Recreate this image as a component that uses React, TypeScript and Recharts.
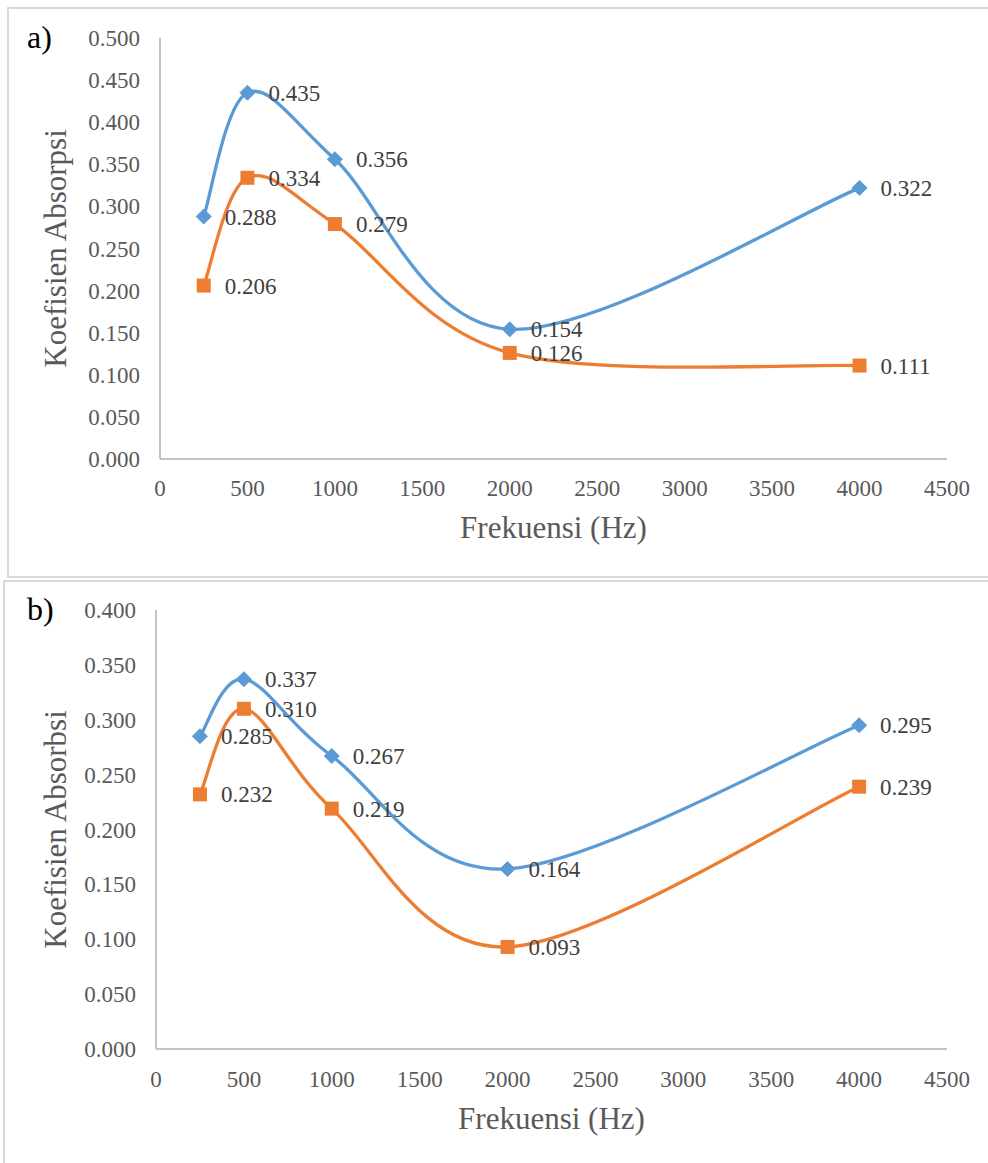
import { LineChart, Line, XAxis, YAxis, LabelList } from 'recharts';

const FREQUENCIES = [250, 500, 1000, 2000, 4000];
const A_BLUE = [0.288, 0.435, 0.356, 0.154, 0.322];
const A_ORANGE = [0.206, 0.334, 0.279, 0.126, 0.111];
const B_BLUE = [0.285, 0.337, 0.267, 0.164, 0.295];
const B_ORANGE = [0.232, 0.31, 0.219, 0.093, 0.239];
const X_TICKS = [0, 500, 1000, 1500, 2000, 2500, 3000, 3500, 4000, 4500];
const A_Y_TICKS = [0, 0.05, 0.1, 0.15, 0.2, 0.25, 0.3, 0.35, 0.4, 0.45, 0.5];
const B_Y_TICKS = [0, 0.05, 0.1, 0.15, 0.2, 0.25, 0.3, 0.35, 0.4];

const BLUE = '#5B9BD5';
const ORANGE = '#ED7D31';
const FONT = 'Liberation Serif, Times New Roman, serif';

// Excel-style smoothed line: bezier with control points at 1/6 of neighbour span
function excelSmooth(context: any) {
    let pts: number[][] = [];
    return {
        areaStart() {},
        areaEnd() {},
        lineStart() {
            pts = [];
        },
        point(x: number, y: number) {
            pts.push([+x, +y]);
        },
        lineEnd() {
            const n = pts.length;
            if (!n) return;
            context.moveTo(pts[0][0], pts[0][1]);
            for (let i = 0; i < n - 1; i++) {
                const p0 = pts[Math.max(i - 1, 0)];
                const p1 = pts[i];
                const p2 = pts[i + 1];
                const p3 = pts[Math.min(i + 2, n - 1)];
                context.bezierCurveTo(
                    p1[0] + (p2[0] - p0[0]) / 6,
                    p1[1] + (p2[1] - p0[1]) / 6,
                    p2[0] - (p3[0] - p1[0]) / 6,
                    p2[1] - (p3[1] - p1[1]) / 6,
                    p2[0],
                    p2[1],
                );
            }
        },
    };
}

const diamondDot = (p: any) => {
    const { cx, cy, index } = p;
    const r = 7.5;
    return (
        <polygon
            key={`d-${index}`}
            points={`${cx},${cy - r} ${cx + r},${cy} ${cx},${cy + r} ${cx - r},${cy}`}
            fill={BLUE}
            stroke={BLUE}
        />
    );
};

const squareDot = (p: any) => {
    const { cx, cy, index } = p;
    return <rect key={`s-${index}`} x={cx - 7} y={cy - 7} width={14} height={14} fill={ORANGE} />;
};

const valueLabel = (p: any) => {
    const vb = p.viewBox || {};
    const x = Number(vb.x ?? p.x);
    const y = Number(vb.y ?? p.y);
    return (
        <text x={x + 21} y={y} dy="0.35em" style={{ fill: '#404040', fontSize: 23, fontFamily: FONT }}>
            {Number(p.value).toFixed(3)}
        </text>
    );
};

const XTick = (p: any) => (
    <text x={p.x} y={p.y} dy="0.71em" textAnchor="middle" style={{ fill: '#595959', fontSize: 23, fontFamily: FONT }}>
        {p.payload.value}
    </text>
);

const YTick = (p: any) => (
    <text x={p.x} y={p.y} dy="0.35em" textAnchor="end" style={{ fill: '#595959', fontSize: 23, fontFamily: FONT }}>
        {Number(p.payload.value).toFixed(3)}
    </text>
);

interface PanelProps {
    blue: number[];
    orange: number[];
    yTicks: number[];
    yTitle: string;
    height: number;
    marginTop: number;
    axisWidth: number;
    xAxisHeight: number;
    xTickMargin: number;
    xTitleOffset: number;
}

function Panel({ blue, orange, yTicks, yTitle, height, marginTop, axisWidth, xAxisHeight, xTickMargin, xTitleOffset }: PanelProps) {
    const data = FREQUENCIES.map((f, i) => ({ freq: f, blue: blue[i], orange: orange[i] }));
    return (
        <LineChart width={988} height={height} data={data} margin={{ top: marginTop, right: 41, left: 0, bottom: 0 }}>
            <XAxis
                dataKey="freq"
                type="number"
                domain={[0, 4500]}
                ticks={X_TICKS}
                tick={XTick}
                tickLine={false}
                tickMargin={xTickMargin}
                axisLine={{ stroke: '#C4C4C4', strokeWidth: 2 }}
                height={xAxisHeight}
                label={{
                    value: 'Frekuensi (Hz)',
                    position: 'insideBottom',
                    offset: xTitleOffset,
                    style: { fill: '#595959', fontSize: 31, fontFamily: FONT },
                }}
            />
            <YAxis
                type="number"
                domain={[0, yTicks[yTicks.length - 1]]}
                ticks={yTicks}
                tick={YTick}
                tickLine={false}
                tickMargin={14}
                width={axisWidth}
                axisLine={{ stroke: '#C4C4C4', strokeWidth: 2 }}
                label={{
                    value: yTitle,
                    angle: -90,
                    position: 'insideLeft',
                    offset: 55,
                    style: { fill: '#595959', fontSize: 31, fontFamily: FONT, textAnchor: 'middle' },
                }}
            />
            <Line
                dataKey="blue"
                type={excelSmooth as any}
                stroke={BLUE}
                strokeWidth={3.3}
                dot={diamondDot}
                activeDot={false}
                isAnimationActive={false}
            >
                <LabelList dataKey="blue" content={valueLabel} />
            </Line>
            <Line
                dataKey="orange"
                type={excelSmooth as any}
                stroke={ORANGE}
                strokeWidth={3.3}
                dot={squareDot}
                activeDot={false}
                isAnimationActive={false}
            >
                <LabelList dataKey="orange" content={valueLabel} />
            </Line>
        </LineChart>
    );
}

export default function App() {
    const tag = { position: 'absolute' as const, left: 27, fontFamily: FONT, fontSize: 32, color: '#000', lineHeight: '32px' };
    return (
        <div style={{ position: 'absolute', left: 0, top: 0, width: 988, height: 1163, overflow: 'hidden', background: '#fff' }}>
            <div style={{ position: 'absolute', left: 7, top: 7, width: 1000, height: 571, border: '2px solid #D9D9D9', boxSizing: 'border-box' }} />
            <div style={{ position: 'absolute', left: 3, top: 580, width: 1000, height: 600, border: '2px solid #D9D9D9', boxSizing: 'border-box' }} />
            <div style={{ position: 'absolute', left: 0, top: 0 }}>
                <Panel
                    blue={A_BLUE}
                    orange={A_ORANGE}
                    yTicks={A_Y_TICKS}
                    yTitle="Koefisien Absorpsi"
                    height={578}
                    marginTop={38}
                    axisWidth={160}
                    xAxisHeight={119}
                    xTickMargin={15}
                    xTitleOffset={40}
                />
            </div>
            <div style={{ position: 'absolute', left: 0, top: 580 }}>
                <Panel
                    blue={B_BLUE}
                    orange={B_ORANGE}
                    yTicks={B_Y_TICKS}
                    yTitle="Koefisien Absorbsi"
                    height={583}
                    marginTop={30}
                    axisWidth={156}
                    xAxisHeight={114}
                    xTickMargin={15.5}
                    xTitleOffset={34}
                />
            </div>
            <div style={{ ...tag, top: 21 }}>a)</div>
            <div style={{ ...tag, top: 593 }}>b)</div>
        </div>
    );
}
